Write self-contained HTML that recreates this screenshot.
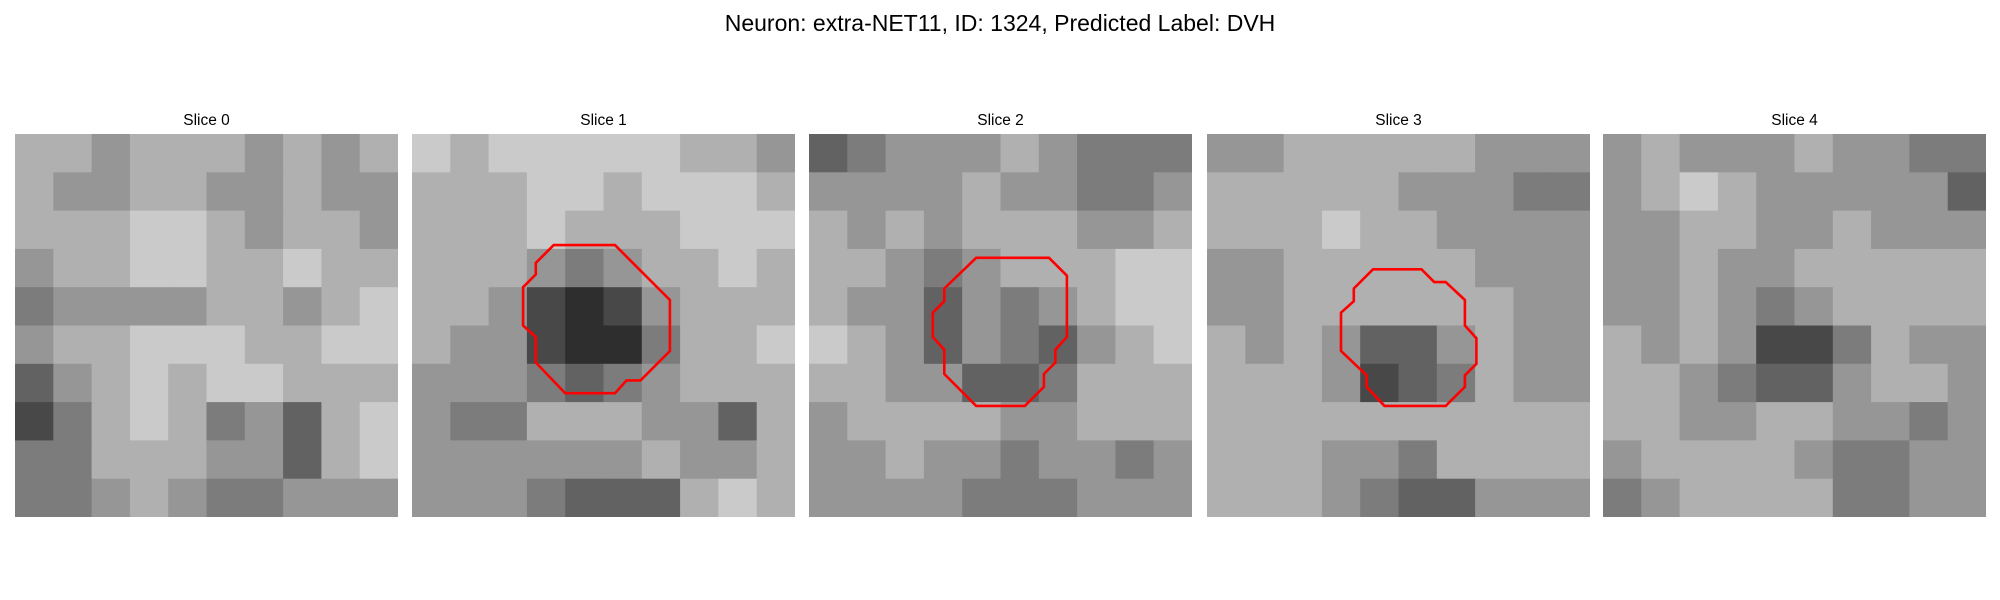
<!DOCTYPE html>
<html><head><meta charset="utf-8">
<style>
html,body{margin:0;padding:0;background:#fff;}
svg{display:block;font-family:"Liberation Sans","DejaVu Sans",sans-serif;}
</style></head>
<body>
<svg id="fig" width="2000" height="600" viewBox="0 0 2000 600">
<text x="1000" y="31" text-anchor="middle" font-size="23" fill="#000">Neuron: extra-NET11, ID: 1324, Predicted Label: DVH</text>
</svg>
<script>
// slice titles
const sliceLabels = ["Slice 0","Slice 1","Slice 2","Slice 3","Slice 4"];
// coarse 10x10 intensity grids (0 = black, 9 = white), one per slice
const slice0 = [
[6,6,5,6,6,6,5,6,5,6],[6,5,5,6,6,5,5,6,5,5],[6,6,6,7,7,6,5,6,6,5],[5,6,6,7,7,6,6,7,6,6],
[4,5,5,5,5,6,6,5,6,7],[5,6,6,7,7,7,6,6,7,7],[3,5,6,7,6,7,7,6,6,6],[2,4,6,7,6,4,5,3,6,7],
[4,4,6,6,6,5,5,3,6,7],[4,4,5,6,5,4,4,5,5,5]];
const slice1 = [
[7,6,7,7,7,7,7,6,6,5],[6,6,6,7,7,6,7,7,7,6],[6,6,6,7,6,6,6,7,7,7],[6,6,6,5,4,5,6,6,7,6],
[6,6,5,2,1,2,5,6,6,6],[6,5,5,2,1,1,4,6,6,7],[5,5,5,4,3,4,5,6,6,6],[5,4,4,6,6,6,5,5,3,6],
[5,5,5,5,5,5,6,5,5,6],[5,5,5,4,3,3,3,6,7,6]];
const slice2 = [
[3,4,5,5,5,6,5,4,4,4],[5,5,5,5,6,5,5,4,4,5],[6,5,6,5,6,6,6,5,5,6],[6,6,5,4,5,6,6,6,7,7],
[6,5,5,3,5,4,5,6,7,7],[7,6,5,3,5,4,3,5,6,7],[6,6,5,5,3,3,4,6,6,6],[5,6,6,6,6,5,5,6,6,6],
[5,5,6,5,5,4,5,5,4,5],[5,5,5,5,4,4,4,5,5,5]];
const slice3 = [
[5,5,6,6,6,6,6,5,5,5],[6,6,6,6,6,5,5,5,4,4],[6,6,6,7,6,6,5,5,5,5],[5,5,6,6,6,6,6,5,5,5],
[5,5,6,6,6,6,6,6,5,5],[6,5,6,5,3,3,5,6,5,5],[6,6,6,5,2,3,4,6,5,5],[6,6,6,6,6,6,6,6,6,6],
[6,6,6,5,5,4,6,6,6,6],[6,6,6,5,4,3,3,5,5,5]];
const slice4 = [
[5,6,5,5,5,6,5,5,4,4],[5,6,7,6,5,5,5,5,5,3],[5,5,6,6,5,5,6,5,5,5],[5,5,6,5,5,6,6,6,6,6],
[5,5,6,5,4,5,6,6,6,6],[6,5,6,5,2,2,4,6,5,5],[6,6,5,4,3,3,5,6,6,5],[6,6,5,5,6,6,5,5,4,5],
[5,6,6,6,6,5,4,4,5,5],[4,5,6,6,6,6,4,4,5,5]];
// ROI contours in image-cell units (30x30 image)
const contour1X = [11.1,15.9,20.2,20.2,17.9,16.8,15.9,12,9.7,9.7,8.7,8.7,9.7,9.7];
const contour1Y = [8.7,8.7,13,17,19.3,19.3,20.3,20.3,17.9,15.9,15,12,11,10.1];
const contour2X = [13.1,18.8,20.2,20.2,19.3,19.3,18.4,18.4,16.9,13.1,10.6,10.6,9.7,9.7,10.6,10.6];
const contour2Y = [9.7,9.7,11.1,15.9,16.9,17.9,18.8,19.8,21.3,21.3,18.8,16.9,15.9,14,13.1,12.1];
const contour3X = [13,16.8,17.8,18.7,20.2,20.2,21.1,21.1,20.2,20.2,18.7,13.9,12.5,12.5,10.5,10.5,11.5,11.5];
const contour3Y = [10.6,10.6,11.6,11.6,13,15,16,18,18.9,19.8,21.3,21.3,19.8,18.9,17,14,13.1,12.1];

const grids = [slice0,slice1,slice2,slice3,slice4];
const contours = [null,[contour1X,contour1Y],[contour2X,contour2Y],[contour3X,contour3Y],null];
const NS = "http://www.w3.org/2000/svg";
const svg = document.getElementById('fig');
const panelX = [15,412,809,1207,1603], panelY = 134, panelW = 383;
function gray(v){const g=Math.min(240,Math.round(20+v*26));return `rgb(${g},${g},${g})`;}
grids.forEach((grid,p)=>{
  const g = document.createElementNS(NS,'g');
  
  
  svg.appendChild(g);
  const t = document.createElementNS(NS,'text');
  t.setAttribute('x', panelX[p]+panelW/2); t.setAttribute('y', 125);
  t.setAttribute('text-anchor','middle'); t.setAttribute('font-size','15.5');
  t.textContent = sliceLabels[p];
  
  
  g.appendChild(t);
  const n = grid.length, cs = panelW/n;
  grid.forEach((row,r)=>row.forEach((v,c)=>{
    const rc = document.createElementNS(NS,'rect');
    rc.setAttribute('x',(panelX[p]+c*cs).toFixed(2));
    rc.setAttribute('y',(panelY+r*cs).toFixed(2));
    rc.setAttribute('width',(c===n-1?cs:cs+0.5).toFixed(2));
    rc.setAttribute('height',(r===n-1?cs:cs+0.5).toFixed(2));
    rc.setAttribute('fill',gray(v));
    
    
    g.appendChild(rc);
  }));
  const ct = contours[p];
  if(ct){
    const u = panelW/30;
    const pts = ct[0].map((x,i)=>(panelX[p]+x*u).toFixed(1)+','+(panelY+ct[1][i]*u).toFixed(1)).join(' ');
    const pg = document.createElementNS(NS,'polygon');
    pg.setAttribute('points',pts);
    pg.setAttribute('fill','none'); pg.setAttribute('stroke','#ff0000'); pg.setAttribute('stroke-width','2.6');
    
    
    g.appendChild(pg);
  }
});
</script>
</body></html>
